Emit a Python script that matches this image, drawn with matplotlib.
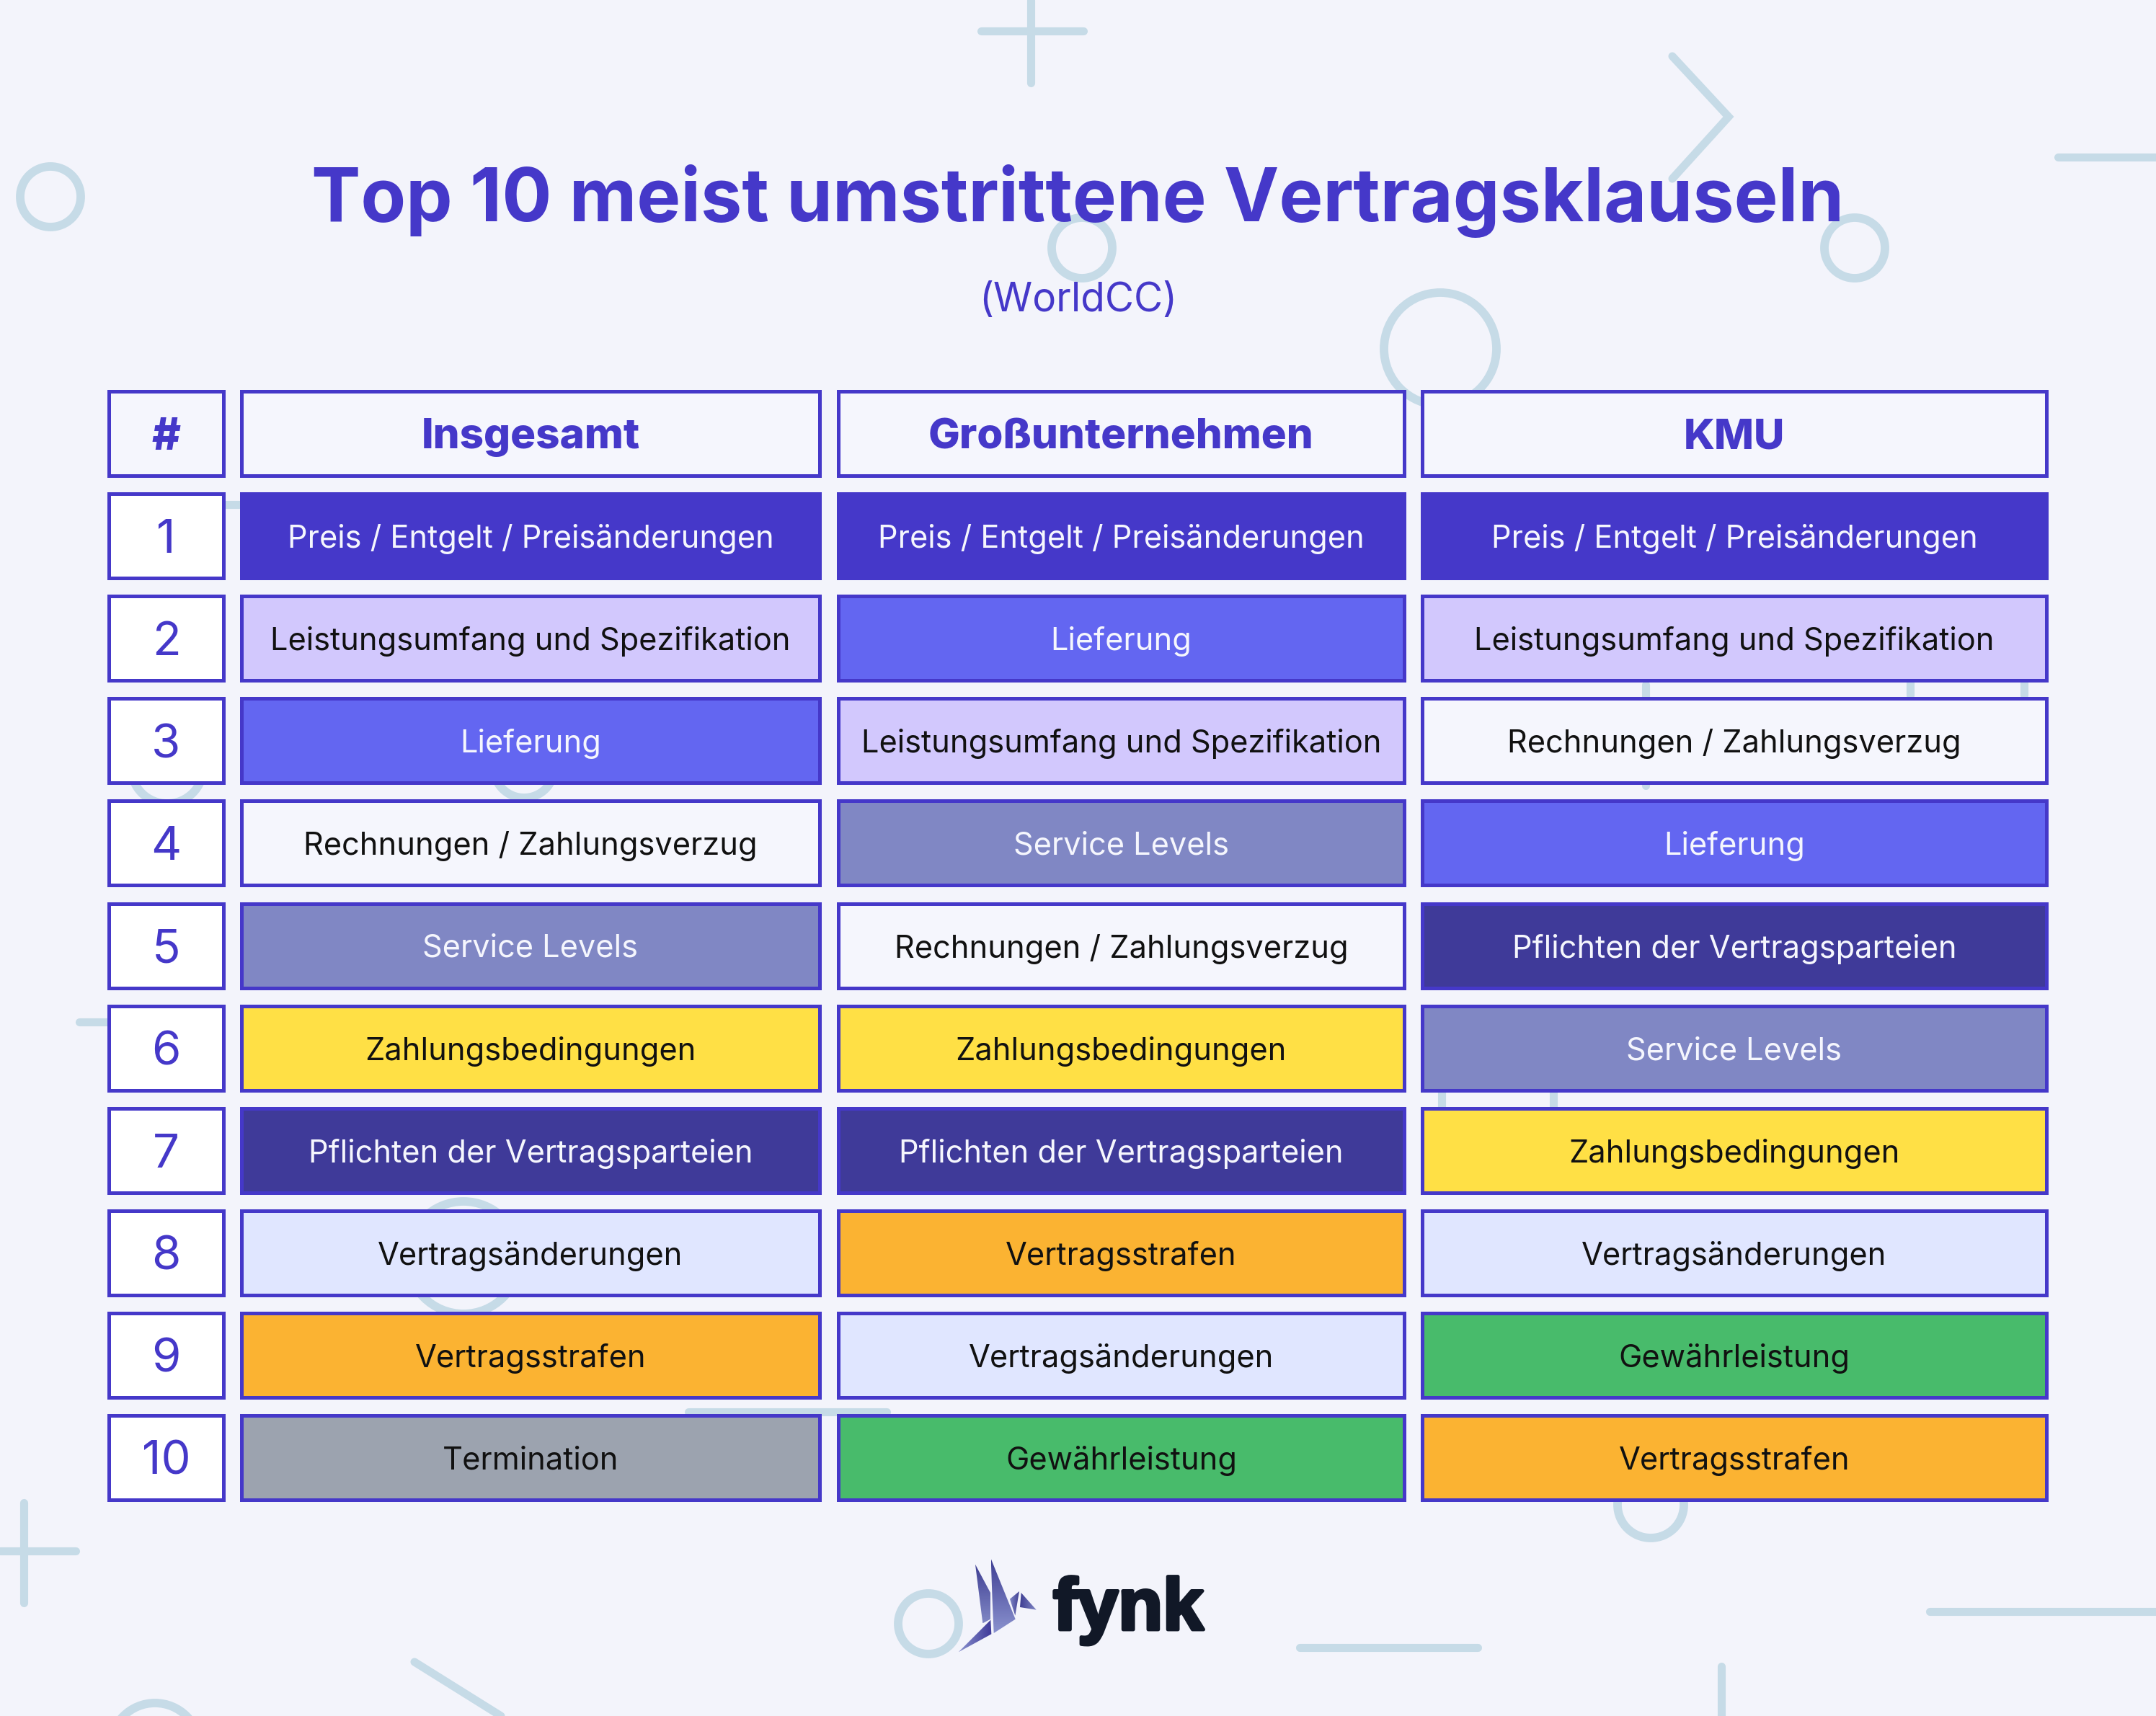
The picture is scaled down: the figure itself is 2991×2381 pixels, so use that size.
import matplotlib
matplotlib.use('agg')
import matplotlib.pyplot as plt
from matplotlib.patches import Rectangle, Circle, Polygon
import matplotlib.patheffects as pe
import numpy as np

plt.rcParams['font.family'] = ['Inter', 'DejaVu Sans']

W, H = 2991, 2381

title = 'Top 10 meist umstrittene Vertragsklauseln'
subtitle = '(WorldCC)'
headers = ['Insgesamt', 'Großunternehmen', 'KMU']
ranks = ['1', '2', '3', '4', '5', '6', '7', '8', '9', '10']
insgesamt = ['Preis / Entgelt / Preisänderungen', 'Leistungsumfang und Spezifikation', 'Lieferung',
             'Rechnungen / Zahlungsverzug', 'Service Levels', 'Zahlungsbedingungen',
             'Pflichten der Vertragsparteien', 'Vertragsänderungen', 'Vertragsstrafen', 'Termination']
gross = ['Preis / Entgelt / Preisänderungen', 'Lieferung', 'Leistungsumfang und Spezifikation',
         'Service Levels', 'Rechnungen / Zahlungsverzug', 'Zahlungsbedingungen',
         'Pflichten der Vertragsparteien', 'Vertragsstrafen', 'Vertragsänderungen', 'Gewährleistung']
kmu = ['Preis / Entgelt / Preisänderungen', 'Leistungsumfang und Spezifikation', 'Rechnungen / Zahlungsverzug',
       'Lieferung', 'Pflichten der Vertragsparteien', 'Service Levels', 'Zahlungsbedingungen',
       'Vertragsänderungen', 'Gewährleistung', 'Vertragsstrafen']

INK = '#4538C9'
DARK = '#111111'
LIGHT = '#F5F6FD'
styles = {
    'Preis / Entgelt / Preisänderungen': ('#4538C9', LIGHT),
    'Leistungsumfang und Spezifikation': ('#D2C8FD', DARK),
    'Lieferung': ('#6366F1', LIGHT),
    'Rechnungen / Zahlungsverzug': ('#F5F6FD', DARK),
    'Service Levels': ('#8087C4', LIGHT),
    'Zahlungsbedingungen': ('#FFE045', DARK),
    'Pflichten der Vertragsparteien': ('#3F3A99', LIGHT),
    'Vertragsänderungen': ('#E0E6FF', DARK),
    'Vertragsstrafen': ('#FBB332', DARK),
    'Termination': ('#9CA3AF', DARK),
    'Gewährleistung': ('#48BB6B', DARK),
}

# x extents of the table columns, pixels
col_x = [(335, 1137), (1163, 1948), (1973, 2839)]
rank_x = (151, 310)
row0 = 543
row_h = 142.1
box_h = 117


def cell(ax, x0, x1, top, fill, txt, color, size, weight='normal'):
    ax.add_patch(Rectangle((x0, top), x1 - x0, box_h, fc=fill, ec=INK, lw=3.6, zorder=3))
    ax.text((x0 + x1) / 2, top + box_h / 2, txt, color=color, fontsize=size, fontweight=weight,
            ha='center', va='center_baseline', zorder=4)


def deco(ax):
    c = '#C6DBE7'
    lines = [
        [(1361, 43), (1503, 43)], [(1430, 0), (1430, 115)],
        [(2320, 78), (2398, 162), (2320, 248)],
        [(2855, 218), (2991, 218)],
        [(0, 2152), (105, 2152)], [(33, 2085), (33, 2224)],
        [(1803, 2286), (2050, 2286)], [(2677, 2236), (2991, 2236)],
        [(2388, 2312), (2388, 2381)], [(575, 2306), (695, 2381)],
        [(955, 1959), (1230, 1959)], [(110, 1418), (150, 1418)],
        [(2283, 950), (2283, 1090)], [(2650, 940), (2650, 965)], [(2808, 940), (2808, 965)],
        [(2000, 1510), (2000, 1540)], [(2155, 1510), (2155, 1540)],
        [(312, 700), (332, 700)],
    ]
    for pts in lines:
        xs, ys = zip(*pts)
        ax.plot(xs, ys, color=c, lw=8, solid_capstyle='round', solid_joinstyle='miter', zorder=1)
    circles = [(70, 273, 42), (1501, 344, 42), (2573, 344, 42), (1998, 484, 78),
               (1288, 2253, 42), (2290, 2088, 46), (215, 2425, 62), (643, 1745, 78),
               (232, 1065, 50), (727, 1065, 42)]
    for x, y, r in circles:
        ax.add_patch(Circle((x, y), r, fc='none', ec=c, lw=8.5, zorder=1))


def logo(ax):
    # polygons in pixels, each with its gradient colours
    z = lambda pts: [(1200 + x / 3, 2120 + y / 3) for x, y in pts]
    parts = [
        (z([(459, 152), (522, 270), (522, 380), (490, 397)]), '#3F3F94', '#8087C4', 'v'),
        (z([(524, 128), (626, 380), (536, 438), (530, 300)]), '#3F3F94', '#8A92CE', 'v'),
        (z([(603, 296), (642, 264), (625, 365)]), '#8087C4', '#3F3F94', 'h'),
        (z([(650, 270), (713, 341), (645, 330)]), '#3F3F94', '#8087C4', 'h'),
        (z([(523, 383), (526, 442), (389, 517)]), '#3F3A99', '#8A92CE', 'r'),
    ]
    for pts, c0, c1, mode in parts:
        pts = np.array(pts)
        x0, y0 = pts.min(axis=0)
        x1, y1 = pts.max(axis=0)
        cm = matplotlib.colors.LinearSegmentedColormap.from_list('g', [c0, c1])
        t = np.linspace(0, 1, 64)
        if mode == 'v':
            grad = t[:, None]
        elif mode == 'h':
            grad = t[None, :]
        else:
            grad = t[::-1][None, :]
        im = ax.imshow(grad, extent=(x0, x1, y1, y0), cmap=cm, aspect='auto', zorder=5)
        p = Polygon(pts, closed=True, fc='none', ec='none', transform=ax.transData)
        ax.add_patch(p)
        im.set_clip_path(p)
    t = ax.text(1461, 2261, 'fynk', color='#111827', fontsize=73, fontweight='bold',
                family=['Liberation Sans', 'Inter'], ha='left', va='baseline', zorder=5)
    t.set_path_effects([pe.withStroke(linewidth=3.5, foreground='#111827')])


fig = plt.figure(figsize=(W / 100, H / 100), dpi=100, facecolor='#F3F4FB')
ax = fig.add_axes([0, 0, 1, 1])
ax.axis('off')

deco(ax)
logo(ax)
ax.set_xlim(0, W)
ax.set_ylim(H, 0)

ax.text(1495, 268, title, color=INK, fontsize=73.8, fontweight='bold', ha='center', va='center_baseline', zorder=4)
ax.text(1496, 412, subtitle, color=INK, fontsize=39.6, ha='center', va='center_baseline', zorder=4)

cell(ax, rank_x[0], rank_x[1], row0, LIGHT, '#', INK, 44, 'extra bold')
for (x0, x1), h in zip(col_x, headers):
    cell(ax, x0, x1, row0, LIGHT, h, INK, 42, 'extra bold')

for i, rank in enumerate(ranks):
    top = row0 + (i + 1) * row_h
    cell(ax, rank_x[0], rank_x[1], top, 'white', rank, INK, 47)
    for (x0, x1), col in zip(col_x, [insgesamt, gross, kmu]):
        fill, color = styles[col[i]]
        cell(ax, x0, x1, top, fill, col[i], color, 31.2)

fig.savefig('out.png', dpi=100, facecolor=fig.get_facecolor())
